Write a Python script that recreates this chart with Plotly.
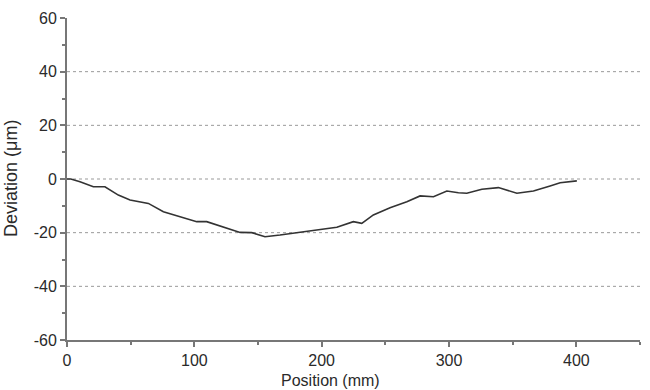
import plotly.graph_objects as go

position_mm = [0, 3, 10.2, 20.7, 29.8, 40.3, 49.5, 63.9, 75.7, 88.8, 101.9, 109.7, 122.8, 135.9,
               145.1, 155.5, 167.3, 180.4, 193.5, 204.0, 211.9, 224.9, 231.5, 240.6, 253.7,
               266.9, 277.3, 287.8, 298.3, 307.4, 314.0, 325.8, 338.8, 353.3, 366.3, 379.4,
               387.3, 400.4]
deviation_um = [0, 0.0, -1.0, -2.9, -2.9, -6.0, -7.8, -9.1, -12.2, -14.0, -15.9, -15.9, -17.8,
                -19.9, -20.0, -21.5, -20.9, -20.0, -19.0, -18.4, -18.0, -15.9, -16.5, -13.4,
                -10.7, -8.5, -6.3, -6.6, -4.5, -5.1, -5.3, -3.8, -3.2, -5.3, -4.5, -2.6,
                -1.4, -0.7]

x_ticks = [0, 100, 200, 300, 400]
y_ticks = [-60, -40, -20, 0, 20, 40, 60]
y_labels = ["-60", "-40", "-20", "0", "20", "40", "60"]
grid_levels = [-40, -20, 0, 20, 40]

fig = go.Figure()
fig.add_trace(go.Scatter(x=position_mm, y=deviation_um, mode="lines",
                         line=dict(color="#333333", width=1.6), showlegend=False))

shapes = []
for g in grid_levels:
    shapes.append(dict(type="line", xref="paper", yref="y", x0=0, x1=1, y0=g, y1=g,
                       line=dict(color="#999999", width=1, dash="dot"), layer="below"))

font = dict(family="Liberation Sans, Arial, sans-serif", size=16, color="#2a2a2a")
ytitle_font = dict(family="Liberation Sans, Arial, sans-serif", size=18, color="#2a2a2a")

fig.update_layout(
    width=650, height=390,
    margin=dict(l=67, r=10, t=18, b=50),
    paper_bgcolor="white", plot_bgcolor="white",
    font=font,
    shapes=shapes,
    xaxis=dict(range=[0, 450], tickvals=x_ticks, showgrid=False, zeroline=False,
               showline=True, linecolor="#777777", linewidth=2,
               ticks="outside", ticklen=5, tickwidth=2, tickcolor="#777777",
               minor=dict(tickvals=[50, 150, 250, 350, 450], ticks="outside", ticklen=3,
                          tickwidth=2, tickcolor="#777777"),
               tickfont=font),
    yaxis=dict(range=[-60, 60], tickvals=y_ticks, ticktext=y_labels, showgrid=False,
               zeroline=False, showline=True, linecolor="#777777", linewidth=2,
               ticks="outside", ticklen=5, tickwidth=2, tickcolor="#777777",
               minor=dict(tickvals=[-50, -30, -10, 10, 30, 50], ticks="outside", ticklen=3,
                          tickwidth=2, tickcolor="#777777"),
               tickfont=font),
    annotations=[
        dict(text="Position (mm)", xref="paper", yref="paper", x=(330 - 67) / 573,
             y=-40 / 322, xanchor="center", yanchor="middle", showarrow=False, font=font),
        dict(text="Deviation (μm)", xref="paper", yref="paper", x=-67 / 573, y=0.5,
             xanchor="center", yanchor="middle", xshift=11, textangle=-90, showarrow=False,
             font=ytitle_font),
    ],
)

fig.write_html("out.html")
